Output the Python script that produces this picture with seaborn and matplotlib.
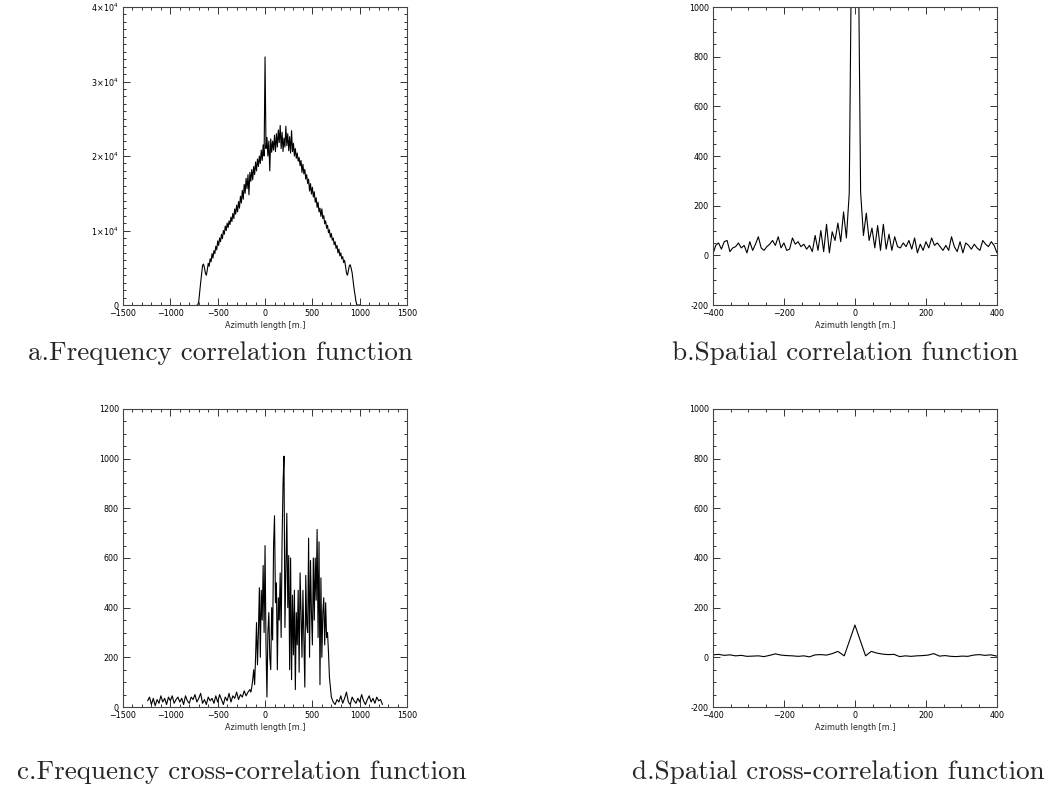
import numpy as np
import pandas as pd
import matplotlib
matplotlib.use("Agg")
import matplotlib.pyplot as plt
import seaborn as sns
from matplotlib.ticker import MultipleLocator, FuncFormatter

# ---------------- data ----------------
# a. Frequency correlation function (x step 10 m, from -720 to 1000)
a_left = [0, 0, 500, 1800, 3000, 4200, 5300, 5500, 5000, 4300, 4000, 4700, 5600, 5200, 6200, 5800,
          6900, 6300, 7300, 6900, 7900, 7400, 8600, 8000, 9000, 8500, 9500, 8900, 10000, 9500, 10600,
          10000, 11000, 10400, 11300, 10800, 11800, 11200, 12300, 11600, 12900, 12200, 13400, 12500,
          13900, 13000, 14600, 13700, 15400, 14200, 16200, 15000, 17000, 15600, 17500, 14800, 17800,
          16600, 18200, 16800, 18600, 17500, 19200, 18000, 19600, 18600, 20000, 19000, 20800, 19400,
          21500, 20000]
a_centre = [33300]
a_right = [21000, 22500, 20000, 22000, 18000, 22300, 20500, 22000, 20800, 22800, 20600, 23000, 21200,
           23500, 21800, 24100, 21000, 23200, 20600, 22400, 21200, 24000, 21400, 23000, 20700, 22600,
           20400, 23400, 20600, 21700, 20000, 21000, 19700, 20400, 19300, 19800, 18700, 19400, 17800,
           18900, 17600, 18200, 16900, 17500, 16300, 16900, 15300, 16300, 14900, 15800, 14500, 15200,
           13800, 14400, 13100, 13800, 12500, 13000, 11900, 12900, 11600, 12000, 10900, 11300, 10300,
           10700, 9700, 10100, 9100, 9600, 8700, 9000, 8100, 8500, 7600, 8000, 7000, 7500, 6600, 7000,
           6200, 6500, 5700, 6000, 5200, 4300, 4000, 4600, 5300, 5400, 4900, 4300, 3200, 2200, 1300,
           500, 0, 0, 0, 0]
a_vals = a_left + a_centre + a_right
a_x = list(np.arange(-720, -720 + 10 * len(a_vals), 10))

# b. Spatial correlation function (x step 8 m, -400..400)
b_vals = [5, 40, 50, 25, 55, 60, 15, 30, 35, 50, 30, 40, 10, 55, 20, 45, 75, 30, 20, 35, 45, 60, 40,
          75, 30, 50, 20, 25, 70, 45, 55, 35, 45, 25, 40, 15, 80, 20, 100, 15, 125, 10, 95, 60, 130,
          55, 175, 70, 250, 1500, 5000, 1500, 255, 80, 170, 60, 110, 30, 120, 20, 125, 25, 85, 20, 75,
          35, 30, 50, 35, 60, 25, 70, 10, 45, 20, 55, 30, 70, 40, 50, 35, 20, 40, 20, 75, 35, 15, 55,
          10, 50, 40, 25, 45, 30, 20, 60, 45, 35, 55, 40, 10]
b_x = list(np.linspace(-400, 400, len(b_vals)))

# c. Frequency cross-correlation function
c_tail_left = [25, 40, 10, 35, 5, 30, 15, 45, 20, 35, 10, 40, 25, 45, 15, 30, 40, 20, 35, 10, 45, 25,
               15, 40, 30, 50, 20, 35, 55, 15, 30, 10, 40, 25, 35, 15, 45, 20, 50, 30, 10, 40, 25, 55,
               20, 45, 35, 60, 30, 50, 40, 65, 45, 60, 70]
c_band = [60, 80, 110, 150, 90, 200, 340, 170, 300, 480, 200, 470, 350, 570, 300, 650, 250, 40, 300,
          380, 200, 150, 400, 270, 650, 770, 420, 500, 150, 440, 350, 540, 280, 670, 900, 1010, 320,
          560, 780, 400, 610, 150, 600, 110, 450, 210, 470, 70, 380, 250, 470, 140, 540, 380, 200,
          470, 280, 80, 530, 330, 300, 680, 200, 590, 380, 250, 600, 350, 600, 430, 715, 280, 665, 90,
          520, 200, 380, 440, 250, 420, 280, 300, 220, 120, 80, 40, 30, 20]
c_tail_right = [10, 30, 20, 45, 15, 35, 60, 20, 10, 40, 25, 15, 35, 20, 50, 25, 10, 30, 45, 20, 35,
                15, 40, 25, 30, 10]
c_x = (list(np.linspace(-1240, -160, len(c_tail_left)))
       + list(np.linspace(-150, -150 + 10 * (len(c_band) - 1), len(c_band)))
       + list(np.linspace(740, 1240, len(c_tail_right))))
c_vals = c_tail_left + c_band + c_tail_right

# d. Spatial cross-correlation function
d_x = [-400, -384, -368, -352, -336, -320, -304, -288, -272, -256, -240, -224, -208, -192, -176,
       -160, -144, -128, -112, -96, -80, -64, -48, -30, 0, 30, 46, 62, 78, 94, 110, 126, 142, 158,
       174, 190, 206, 222, 238, 254, 270, 286, 302, 318, 334, 350, 366, 382, 400]
d_vals = [10, 12, 8, 10, 6, 8, 4, 5, 6, 3, 8, 14, 9, 7, 6, 4, 6, 2, 10, 11, 9, 15, 24, 6, 130, 6, 24,
          17, 13, 11, 12, 3, 6, 4, 6, 7, 9, 15, 5, 7, 4, 3, 5, 4, 9, 11, 8, 10, 5]

captions = ["a.Frequency correlation function", "b.Spatial correlation function",
            "c.Frequency cross-correlation function", "d.Spatial cross-correlation function"]
xlabel = "Azimuth length [m.]"

# ---------------- figure ----------------
sns.set_style("ticks")
plt.rcParams["font.family"] = ["DejaVu Sans"]
plt.rcParams["mathtext.fontset"] = "dejavusans"

fig = plt.figure(figsize=(10.64, 7.96), dpi=100)

W, H = 0.267, 0.3744
axes_rects = [[0.1156, 0.6168, W, H], [0.670, 0.6168, W, H],
              [0.1156, 0.1118, W, H], [0.670, 0.1118, W, H]]


def sci_fmt(v, pos):
    if v == 0:
        return "0"
    m = int(round(v / 1e4))
    return r"$%d\!\times\!10^{4}$" % m


specs = [
    (a_x, a_vals, (-1500, 1500), (0, 40000), 500, 100, 10000, 1000, True),
    (b_x, b_vals, (-400, 400), (-200, 1000), 200, 50, 200, 50, False),
    (c_x, c_vals, (-1500, 1500), (0, 1200), 500, 100, 200, 50, False),
    (d_x, d_vals, (-400, 400), (-200, 1000), 200, 50, 200, 50, False),
]

for rect, spec in zip(axes_rects, specs):
    xs, ys, xl, yl, xmaj, xmin, ymaj, ymin, sci = spec
    ax = fig.add_axes(rect)
    df = pd.DataFrame({"x": xs, "y": ys})
    sns.lineplot(data=df, x="x", y="y", ax=ax, color="black", linewidth=0.8,
                 estimator=None, sort=False)
    ax.set_xlim(*xl)
    ax.set_ylim(*yl)
    ax.xaxis.set_major_locator(MultipleLocator(xmaj))
    ax.xaxis.set_minor_locator(MultipleLocator(xmin))
    ax.yaxis.set_major_locator(MultipleLocator(ymaj))
    ax.yaxis.set_minor_locator(MultipleLocator(ymin))
    if sci:
        ax.yaxis.set_major_formatter(FuncFormatter(sci_fmt))
    else:
        ax.yaxis.set_major_formatter(FuncFormatter(lambda v, p: "%d" % v))
    ax.xaxis.set_major_formatter(FuncFormatter(lambda v, p: ("\u2212%d" % -v) if v < 0 else "%d" % v))
    ax.tick_params(which="both", direction="in", top=True, right=True, colors="#333333",
                   labelcolor="black", labelsize=5.8, width=0.7)
    ax.tick_params(which="major", length=5, pad=3)
    ax.tick_params(which="minor", length=2.5)
    for s in ax.spines.values():
        s.set_visible(True)
        s.set_linewidth(0.8)
        s.set_color("#444444")
    ax.set_xlabel(xlabel, fontsize=5.8, labelpad=2)
    ax.set_ylabel("")

cap_pos = [(0.207, 0.5565), (0.794, 0.5565), (0.2275, 0.030), (0.788, 0.030)]
for (cx, cy), txt in zip(cap_pos, captions):
    fig.text(cx, cy, txt, ha="center", va="center", fontsize=19.5, family="cmr10")

fig.savefig("out.png", dpi=100, facecolor="white")
